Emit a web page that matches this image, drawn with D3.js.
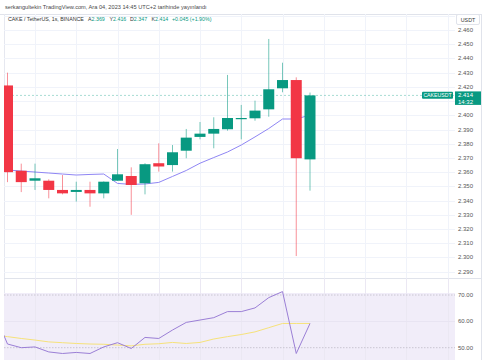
<!DOCTYPE html>
<html><head><meta charset="utf-8">
<script src="https://cdn.jsdelivr.net/npm/d3@7"></script>
<style>
html,body{margin:0;padding:0;background:#fff;}
svg{display:block;font-family:"Liberation Sans",Arial,sans-serif;}
</style></head>
<body><svg id="c" width="485" height="360"></svg>
<script>
// ---- data ----
const candleIndex = d3.range(1, 24);
const opens  = [2.421,2.361,2.354,2.354,2.3475,2.3461,2.3475,2.3451,2.354,2.3573,2.3522,2.3663,2.365,2.3751,2.3848,2.3871,2.3902,2.3978,2.3979,2.4042,2.419,2.4248,2.369];
const highs  = [2.430,2.366,2.366,2.355,2.358,2.3533,2.3533,2.3535,2.3763,2.3634,2.3663,2.3803,2.3791,2.3904,2.3953,2.3986,2.4284,2.4073,2.4103,2.4537,2.437,2.4267,2.416];
const lows   = [2.353,2.346,2.3475,2.3416,2.3444,2.3393,2.3357,2.3416,2.354,2.330,2.3444,2.3604,2.3604,2.3698,2.3831,2.3768,2.3892,2.3831,2.3962,2.399,2.4162,2.301,2.347];
const closes = [2.360,2.353,2.3557,2.3475,2.3451,2.3475,2.3451,2.3533,2.3585,2.351,2.3656,2.364,2.374,2.3843,2.3871,2.3904,2.3981,2.3981,2.4033,2.4183,2.4248,2.3698,2.414];
const maValues = [2.3615,2.3608,2.3601,2.3594,2.3587,2.358,2.3584,2.3587,2.3521,2.3514,2.3517,2.3528,2.357,2.3612,2.3663,2.3703,2.3742,2.3791,2.3848,2.3907,2.3974,2.3974,2.4002];
// RSI arrays start one bar earlier (index 0, off the left edge)
const rsiIndex = d3.range(0, 24);
const rsiValues = [63.8,51.4,50.0,50.3,48.4,47.8,48.2,47.8,50.3,51.9,49.7,53.9,53.5,56.7,59.6,60.5,61.4,63.7,63.7,65.1,69.0,71.3,47.8,59.2];
const rsiMaValues = [54.8,54.2,53.5,52.9,52.2,51.9,51.6,51.4,51.3,51.0,50.7,51.3,51.5,52.0,51.6,52.0,53.3,54.2,55.0,56.0,57.6,59.2,59.2,59.2];
const priceTicks = d3.range(0, 18).map(i => +(2.29 + i * 0.01).toFixed(3));
const rsiTicks = [50, 60, 70];
const headerTitle = "serkangultekin TradingView.com, Ara 04, 2023 14:45 UTC+2 tarihinde yayınlandı";
const symbolText = "CAKE / TetherUS, 1s, BINANCE";
const ohlcLabels = ["A","Y","D","K"];
const changeText = "+0.045 (+1.90%)";
const lastPrice = 2.414;
const countdown = "14:32";

// ---- layout ----
const svg = d3.select("#c");
const L = 4, R = 455, T = 14, paneSep = 278, B = 360;
const up = "#089981", down = "#f23645";

const x = d3.scaleLinear().domain([1, 23]).range([7.5, 310]);
const bodyW = 11;
const y = d3.scaleLinear().domain([2.29, 2.46]).range([271.7, 30]);
const yr = d3.scaleLinear().domain([50, 70]).range([347.7, 295]);

const defs = svg.append("defs");
defs.append("clipPath").attr("id","cp1").append("rect").attr("x",L).attr("y",T).attr("width",R-L).attr("height",paneSep-T);
defs.append("clipPath").attr("id","cp2").append("rect").attr("x",L).attr("y",paneSep).attr("width",R-L).attr("height",B-paneSep);

// fit a text to a target width by adjusting its font size
function fitText(sel, target) {
  const fs = +sel.attr("font-size");
  const w = sel.node().getComputedTextLength();
  if (w > 0) sel.attr("font-size", fs * target / w);
  return sel;
}

// header
fitText(svg.append("text").attr("x",5).attr("y",8.8).attr("font-size",5.6).attr("fill","#4a4a4a").text(headerTitle), 202);

// borders
svg.append("line").attr("x1",0).attr("x2",481).attr("y1",T+0.5).attr("y2",T+0.5).attr("stroke","#e0e3eb");
svg.append("line").attr("x1",L+0.5).attr("x2",L+0.5).attr("y1",T).attr("y2",B).attr("stroke","#e6e8f0");
svg.append("line").attr("x1",481.5).attr("x2",481.5).attr("y1",T).attr("y2",B).attr("stroke","#e0e3eb");
svg.append("line").attr("x1",L).attr("x2",481).attr("y1",paneSep+0.5).attr("y2",paneSep+0.5).attr("stroke","#e0e3eb");

// price pane
const p1 = svg.append("g").attr("clip-path","url(#cp1)");
const vIdx = d3.range(3, 36, 3);
p1.selectAll(".hg").data(d3.range(0,19).map(i=>2.29+i*0.01)).join("line")
  .attr("x1",L).attr("x2",R).attr("y1",d=>Math.round(y(d))+0.5).attr("y2",d=>Math.round(y(d))+0.5)
  .attr("stroke","#f0f3fa");
p1.selectAll(".vg").data(vIdx).join("line")
  .attr("x1",d=>Math.round(x(d))+0.5).attr("x2",d=>Math.round(x(d))+0.5).attr("y1",T).attr("y2",paneSep)
  .attr("stroke","#f0f3fa");

// last price dashed line
p1.append("line").attr("x1",L).attr("x2",R).attr("y1",y(lastPrice)).attr("y2",y(lastPrice))
  .attr("stroke",up).attr("stroke-opacity",0.45).attr("stroke-dasharray","2,2").attr("stroke-width",0.8);

// MA line
p1.append("path").datum(candleIndex.map((d,i)=>[d,maValues[i]]))
  .attr("d", d3.line().x(d=>x(d[0])).y(d=>y(d[1])))
  .attr("fill","none").attr("stroke","#8f86f4").attr("stroke-width",1);

// candles
const cd = candleIndex.map((d,i)=>({i:d,o:opens[i],h:highs[i],l:lows[i],c:closes[i]}));
const cg = p1.selectAll(".cdl").data(cd).join("g");
cg.append("line")
  .attr("x1",d=>x(d.i)).attr("x2",d=>x(d.i)).attr("y1",d=>y(d.h)).attr("y2",d=>y(d.l))
  .attr("stroke",d=>d.c>=d.o?up:down).attr("stroke-opacity",0.55).attr("stroke-width",1);
cg.append("rect")
  .attr("x",d=>x(d.i)-bodyW/2).attr("width",bodyW)
  .attr("y",d=>y(Math.max(d.o,d.c)))
  .attr("height",d=>Math.max(1.2, Math.abs(y(d.o)-y(d.c))))
  .attr("fill",d=>d.c>=d.o?up:down);

// price axis labels
svg.selectAll(".pt").data(priceTicks).join("text")
  .attr("x",458).attr("y",d=>y(d)+2).attr("font-size",6).attr("fill","#555").text(d=>d.toFixed(3));

// USDT box
svg.append("rect").attr("x",456.5).attr("y",14.5).attr("width",23).attr("height",10).attr("rx",1.5)
  .attr("fill","#fff").attr("stroke","#e0e3eb");
svg.append("text").attr("x",468).attr("y",21.6).attr("text-anchor","middle").attr("font-size",5.3).attr("fill","#333").text("USDT");

// last price labels
const ly = y(lastPrice);
svg.append("rect").attr("x",422).attr("y",ly-3.6).attr("width",31).attr("height",7).attr("rx",1).attr("fill",up);
svg.append("text").attr("x",437.5).attr("y",ly+1.8).attr("text-anchor","middle").attr("font-size",5.2).attr("fill","#fff").text("CAKEUSDT");
svg.append("rect").attr("x",455).attr("y",ly-4).attr("width",26).attr("height",13.5).attr("fill",up);
svg.append("text").attr("x",458).attr("y",ly+2).attr("font-size",6).attr("fill","#fff").text(lastPrice.toFixed(3));
svg.append("text").attr("x",458).attr("y",ly+8.3).attr("font-size",6).attr("fill","#fff").text(countdown);

// legend line
const last = cd[cd.length-1];
const legY = 21.4;
const sym = fitText(svg.append("text").attr("x",8).attr("y",legY).attr("font-size",6).attr("fill","#333").text(symbolText), 76);
const legFS = +sym.attr("font-size");
const ohlcX = [88, 109.5, 130, 151.5];
[last.o,last.h,last.l,last.c].forEach((v,i)=>{
  const t = svg.append("text").attr("x",ohlcX[i]).attr("y",legY).attr("font-size",legFS);
  t.append("tspan").attr("fill","#333").text(ohlcLabels[i]);
  t.append("tspan").attr("fill",up).text(v.toFixed(3));
});
svg.append("text").attr("x",172).attr("y",legY).attr("font-size",legFS).attr("fill",up).text(changeText);

// RSI pane
const p2 = svg.append("g").attr("clip-path","url(#cp2)");
p2.append("rect").attr("x",L).attr("y",yr(70)-2).attr("width",R-L).attr("height",B-yr(70)+2).attr("fill","#f1edf9");
p2.selectAll(".vg2").data(vIdx).join("line")
  .attr("x1",d=>Math.round(x(d))+0.5).attr("x2",d=>Math.round(x(d))+0.5).attr("y1",paneSep).attr("y2",B)
  .attr("stroke","#ebe8f3");
p2.append("line").attr("x1",L).attr("x2",R).attr("y1",Math.round(yr(60))+0.5).attr("y2",Math.round(yr(60))+0.5).attr("stroke","#e8e4f2");
[70,50].forEach(v=>{
  p2.append("line").attr("x1",L).attr("x2",R).attr("y1",yr(v)).attr("y2",yr(v))
    .attr("stroke","#c9c6d2").attr("stroke-width",1).attr("stroke-dasharray","1.5,1.5");
});
p2.append("path").datum(rsiIndex.map((d,i)=>[d,rsiMaValues[i]]))
  .attr("d", d3.line().x(d=>x(d[0])).y(d=>yr(d[1])))
  .attr("fill","none").attr("stroke","#f6e27a").attr("stroke-width",1);
p2.append("path").datum(rsiIndex.map((d,i)=>[d,rsiValues[i]]))
  .attr("d", d3.line().x(d=>x(d[0])).y(d=>yr(d[1])))
  .attr("fill","none").attr("stroke","#9b7fd6").attr("stroke-width",1);
svg.selectAll(".rt").data(rsiTicks).join("text")
  .attr("x",458).attr("y",d=>yr(d)+2).attr("font-size",6).attr("fill","#555").text(d=>d.toFixed(2));
</script></body></html>
